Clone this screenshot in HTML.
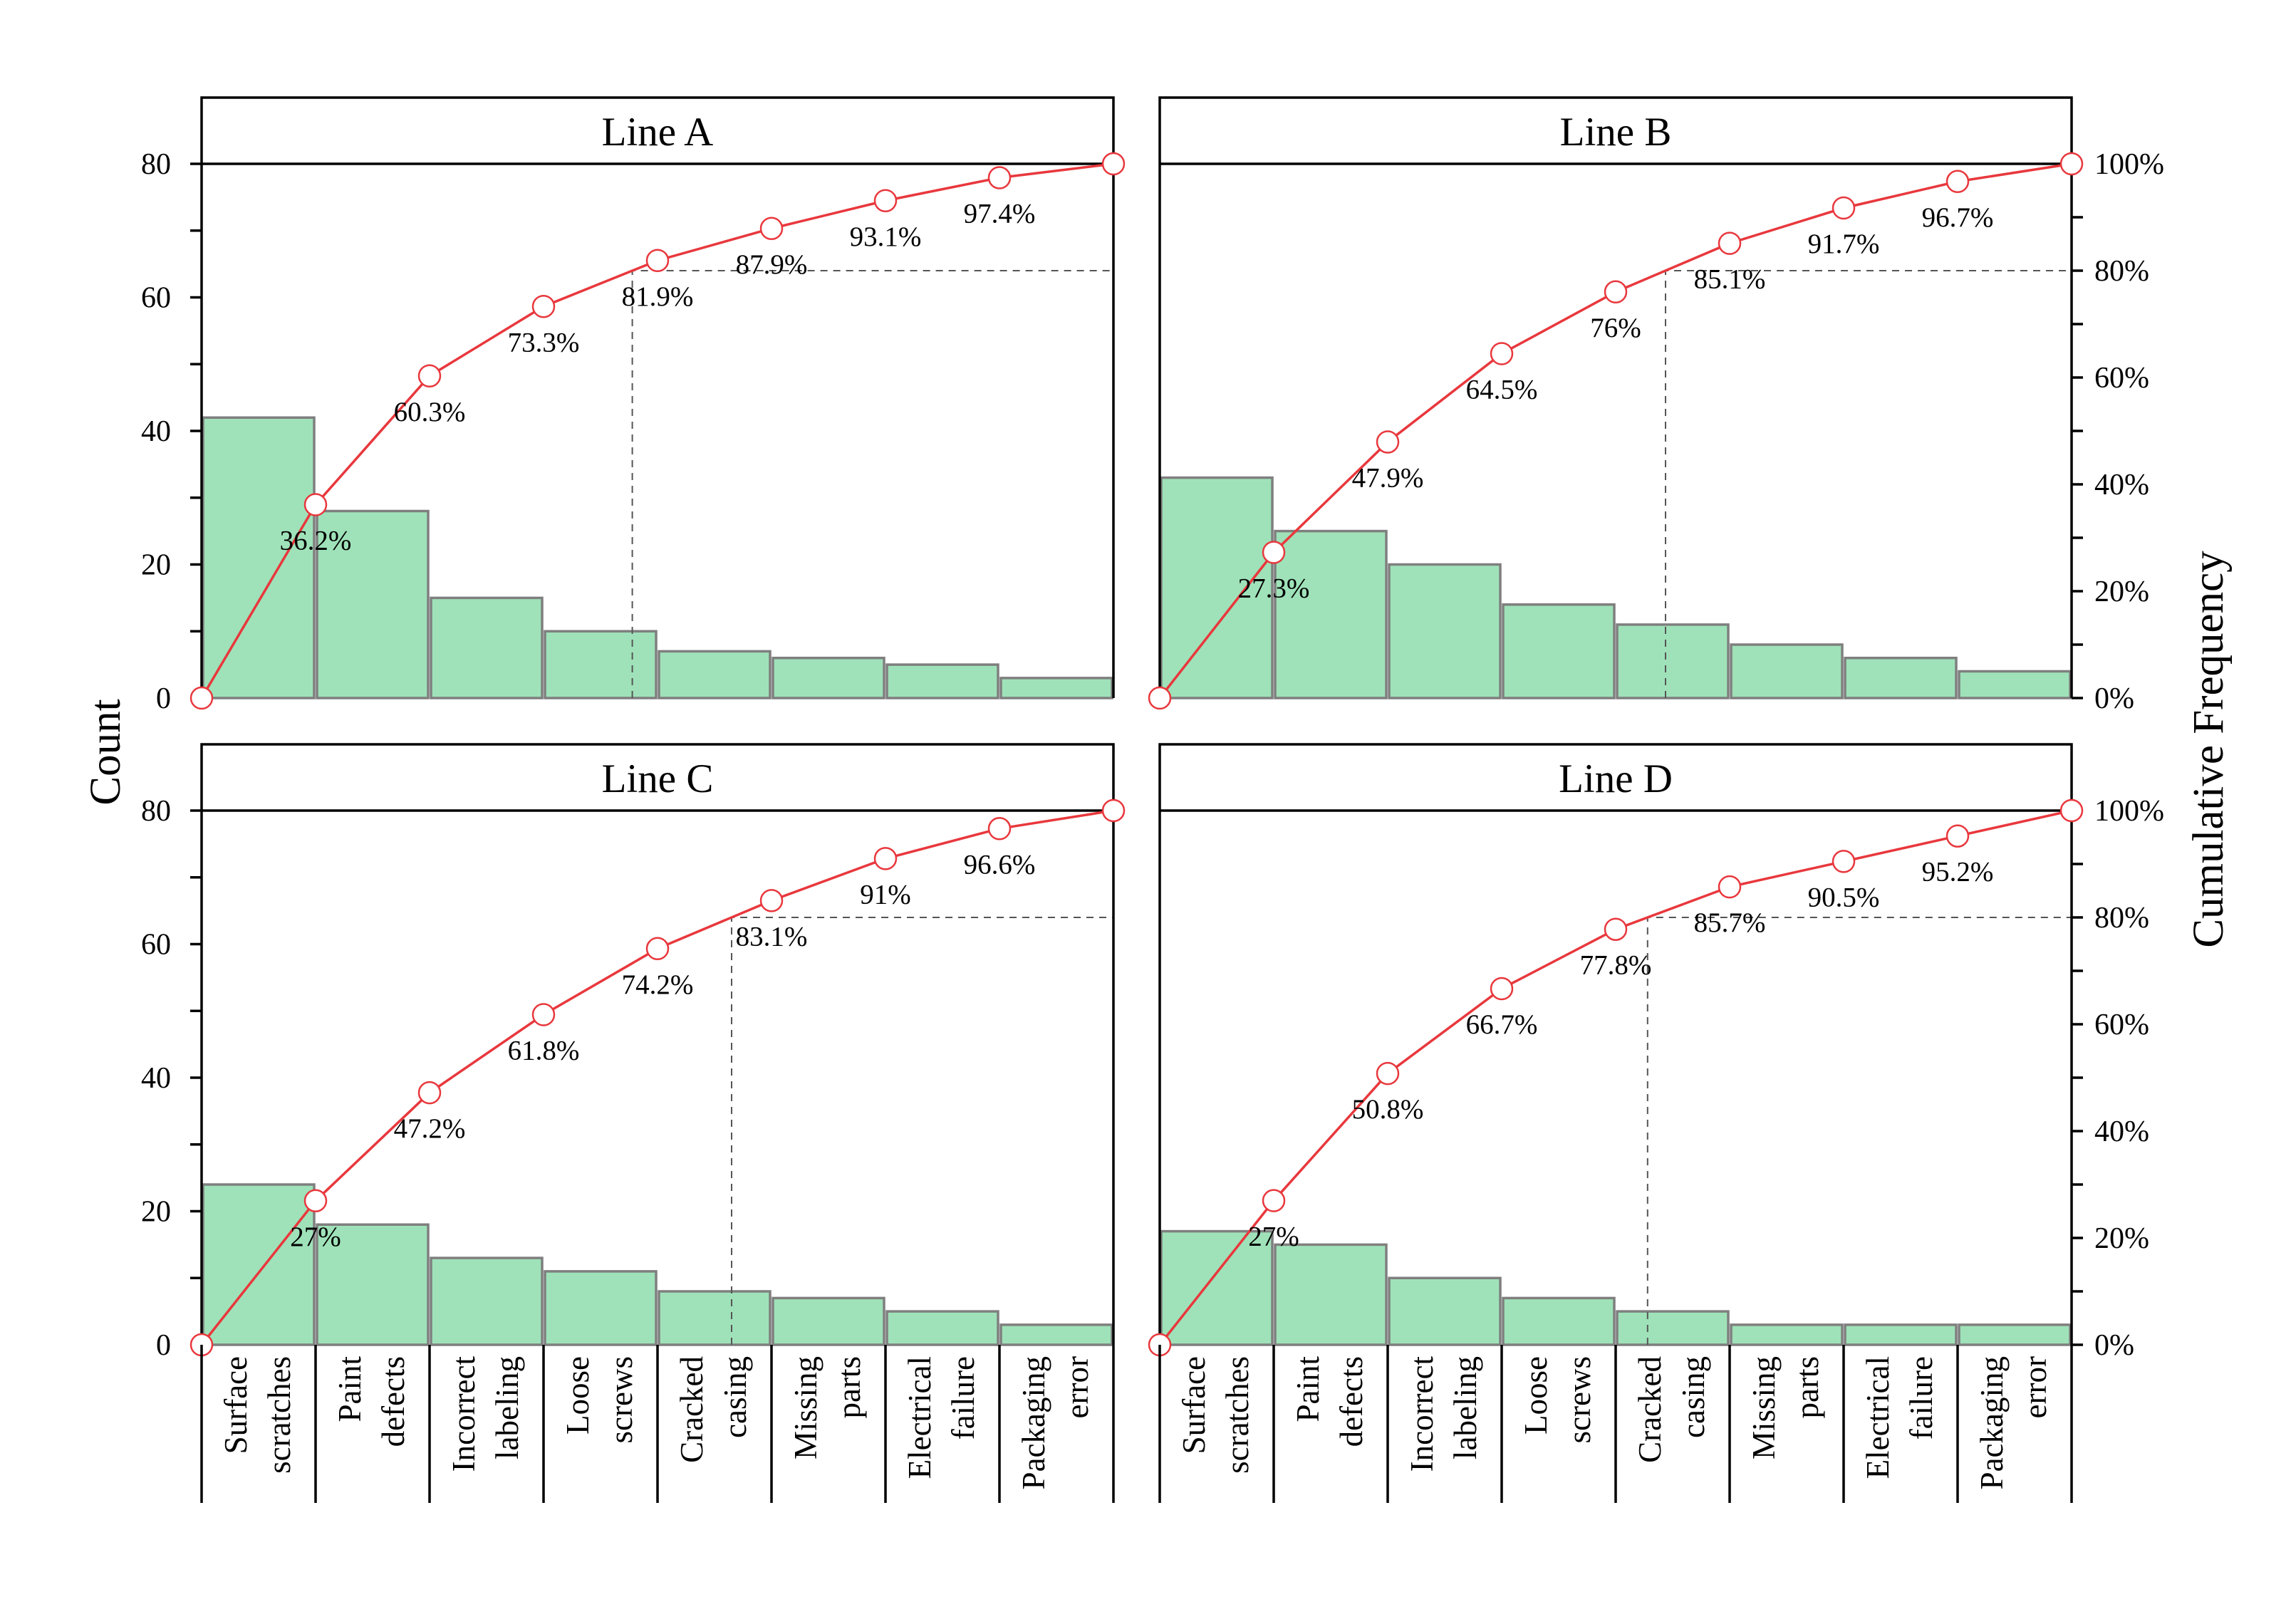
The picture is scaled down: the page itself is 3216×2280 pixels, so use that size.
<!DOCTYPE html>
<html><head><meta charset="utf-8"><style>
html,body{margin:0;padding:0;background:#fff;}
svg{display:block;}
text{font-family:"Liberation Serif",serif;fill:#000;}
.bar{fill:#9fe2b9;stroke:#7f7f7f;stroke-width:3.5;}
.frame{fill:none;stroke:#000;stroke-width:3.5;}
.tick{stroke:#000;stroke-width:3.5;}
.dash{stroke:#555;stroke-width:2;stroke-dasharray:10,8;fill:none;}
.cum{fill:none;stroke:#e8383d;stroke-width:3.5;}
.mk{fill:#fff;stroke:#e8383d;stroke-width:2.5;}
.pl{font-size:39px;text-anchor:middle;}
.yl{font-size:42px;text-anchor:end;}
.yr{font-size:42px;text-anchor:start;}
.tt{font-size:57px;text-anchor:middle;}
.at{font-size:61px;text-anchor:middle;}
.cat{font-size:45px;text-anchor:end;}
</style></head><body>
<svg width="3216" height="2280" viewBox="0 0 3216 2280" xmlns="http://www.w3.org/2000/svg">
<rect width="3216" height="2280" fill="#fff"/>

<!-- ===== Panel A ===== -->
<g transform="translate(283,980)">
<rect class="bar" x="2" y="-393.75" width="156" height="393.75"/>
<rect class="bar" x="162" y="-262.5" width="156" height="262.5"/>
<rect class="bar" x="322" y="-140.6" width="156" height="140.6"/>
<rect class="bar" x="482" y="-93.75" width="156" height="93.75"/>
<rect class="bar" x="642" y="-65.6" width="156" height="65.6"/>
<rect class="bar" x="802" y="-56.25" width="156" height="56.25"/>
<rect class="bar" x="962" y="-46.9" width="156" height="46.9"/>
<rect class="bar" x="1122" y="-28.1" width="156" height="28.1"/>
<path class="dash" d="M604.6,0 V-600 H1280"/>
<path class="frame" d="M0,2 V-843 H1280 V0 M0,-750 H1280"/>
<path class="tick" d="M-16,0H0M-16,-93.75H0M-16,-187.5H0M-16,-281.25H0M-16,-375H0M-16,-468.75H0M-16,-562.5H0M-16,-656.25H0M-16,-750H0"/>
<text class="yl" x="-43" y="14">0</text><text class="yl" x="-43" y="-173.5">20</text><text class="yl" x="-43" y="-361">40</text><text class="yl" x="-43" y="-548.5">60</text><text class="yl" x="-43" y="-736">80</text>
<polyline class="cum" points="0,0 160,-271.5 320,-452.25 480,-549.75 640,-614.25 800,-659.25 960,-698.25 1120,-730.5 1280,-750"/>
<circle class="mk" cx="0" cy="0" r="15"/><circle class="mk" cx="160" cy="-271.5" r="15"/><circle class="mk" cx="320" cy="-452.25" r="15"/><circle class="mk" cx="480" cy="-549.75" r="15"/><circle class="mk" cx="640" cy="-614.25" r="15"/><circle class="mk" cx="800" cy="-659.25" r="15"/><circle class="mk" cx="960" cy="-698.25" r="15"/><circle class="mk" cx="1120" cy="-730.5" r="15"/><circle class="mk" cx="1280" cy="-750" r="15"/>
<text class="pl" x="160" y="-208.5">36.2%</text><text class="pl" x="320" y="-389.25">60.3%</text><text class="pl" x="480" y="-486.75">73.3%</text><text class="pl" x="640" y="-551.25">81.9%</text><text class="pl" x="800" y="-596.25">87.9%</text><text class="pl" x="960" y="-635.25">93.1%</text><text class="pl" x="1120" y="-667.5">97.4%</text>
<text class="tt" x="640" y="-776">Line A</text>
</g>

<!-- ===== Panel B ===== -->
<g transform="translate(1628,980)">
<rect class="bar" x="2" y="-309.4" width="156" height="309.4"/>
<rect class="bar" x="162" y="-234.4" width="156" height="234.4"/>
<rect class="bar" x="322" y="-187.5" width="156" height="187.5"/>
<rect class="bar" x="482" y="-131.25" width="156" height="131.25"/>
<rect class="bar" x="642" y="-103.1" width="156" height="103.1"/>
<rect class="bar" x="802" y="-75" width="156" height="75"/>
<rect class="bar" x="962" y="-56.25" width="156" height="56.25"/>
<rect class="bar" x="1122" y="-37.5" width="156" height="37.5"/>
<path class="dash" d="M710,0 V-600 H1280"/>
<path class="frame" d="M0,2 V-843 H1280 V0 M0,-750 H1280"/>
<path class="tick" d="M1280,0h16M1280,-75h16M1280,-150h16M1280,-225h16M1280,-300h16M1280,-375h16M1280,-450h16M1280,-525h16M1280,-600h16M1280,-675h16M1280,-750h16"/>
<text class="yr" x="1312" y="14">0%</text><text class="yr" x="1312" y="-136">20%</text><text class="yr" x="1312" y="-286">40%</text><text class="yr" x="1312" y="-436">60%</text><text class="yr" x="1312" y="-586">80%</text><text class="yr" x="1312" y="-736">100%</text>
<polyline class="cum" points="0,0 160,-204.5 320,-359.5 480,-483.5 640,-570.2 800,-638.4 960,-688 1120,-725.2 1280,-750"/>
<circle class="mk" cx="0" cy="0" r="15"/><circle class="mk" cx="160" cy="-204.5" r="15"/><circle class="mk" cx="320" cy="-359.5" r="15"/><circle class="mk" cx="480" cy="-483.5" r="15"/><circle class="mk" cx="640" cy="-570.2" r="15"/><circle class="mk" cx="800" cy="-638.4" r="15"/><circle class="mk" cx="960" cy="-688" r="15"/><circle class="mk" cx="1120" cy="-725.2" r="15"/><circle class="mk" cx="1280" cy="-750" r="15"/>
<text class="pl" x="160" y="-141.5">27.3%</text><text class="pl" x="320" y="-296.5">47.9%</text><text class="pl" x="480" y="-420.5">64.5%</text><text class="pl" x="640" y="-507.2">76%</text><text class="pl" x="800" y="-575.4">85.1%</text><text class="pl" x="960" y="-625">91.7%</text><text class="pl" x="1120" y="-662.2">96.7%</text>
<text class="tt" x="640" y="-776">Line B</text>
</g>

<!-- ===== Panel C ===== -->
<g transform="translate(283,1888)">
<rect class="bar" x="2" y="-225" width="156" height="225"/>
<rect class="bar" x="162" y="-168.75" width="156" height="168.75"/>
<rect class="bar" x="322" y="-121.9" width="156" height="121.9"/>
<rect class="bar" x="482" y="-103.1" width="156" height="103.1"/>
<rect class="bar" x="642" y="-75" width="156" height="75"/>
<rect class="bar" x="802" y="-65.6" width="156" height="65.6"/>
<rect class="bar" x="962" y="-46.9" width="156" height="46.9"/>
<rect class="bar" x="1122" y="-28.1" width="156" height="28.1"/>
<path class="dash" d="M744,0 V-600 H1280"/>
<path class="frame" d="M0,2 V-843 H1280 V0 M0,-750 H1280"/>
<path class="tick" d="M-16,0H0M-16,-93.75H0M-16,-187.5H0M-16,-281.25H0M-16,-375H0M-16,-468.75H0M-16,-562.5H0M-16,-656.25H0M-16,-750H0"/>
<text class="yl" x="-43" y="14">0</text><text class="yl" x="-43" y="-173.5">20</text><text class="yl" x="-43" y="-361">40</text><text class="yl" x="-43" y="-548.5">60</text><text class="yl" x="-43" y="-736">80</text>
<polyline class="cum" points="0,0 160,-202.2 320,-353.9 480,-463.5 640,-556.2 800,-623.6 960,-682.6 1120,-724.7 1280,-750"/>
<circle class="mk" cx="0" cy="0" r="15"/><circle class="mk" cx="160" cy="-202.2" r="15"/><circle class="mk" cx="320" cy="-353.9" r="15"/><circle class="mk" cx="480" cy="-463.5" r="15"/><circle class="mk" cx="640" cy="-556.2" r="15"/><circle class="mk" cx="800" cy="-623.6" r="15"/><circle class="mk" cx="960" cy="-682.6" r="15"/><circle class="mk" cx="1120" cy="-724.7" r="15"/><circle class="mk" cx="1280" cy="-750" r="15"/>
<text class="pl" x="160" y="-139.2">27%</text><text class="pl" x="320" y="-290.9">47.2%</text><text class="pl" x="480" y="-400.5">61.8%</text><text class="pl" x="640" y="-493.2">74.2%</text><text class="pl" x="800" y="-560.6">83.1%</text><text class="pl" x="960" y="-619.6">91%</text><text class="pl" x="1120" y="-661.7">96.6%</text>
<text class="tt" x="640" y="-776">Line C</text>
<path class="tick" d="M0,0V222M160,0V222M320,0V222M480,0V222M640,0V222M800,0V222M960,0V222M1120,0V222M1280,0V222"/>
<text class="cat" transform="translate(63,16) rotate(-90)">Surface</text><text class="cat" transform="translate(124,16) rotate(-90)">scratches</text>
<text class="cat" transform="translate(223,16) rotate(-90)">Paint</text><text class="cat" transform="translate(284,16) rotate(-90)">defects</text>
<text class="cat" transform="translate(383,16) rotate(-90)">Incorrect</text><text class="cat" transform="translate(444,16) rotate(-90)">labeling</text>
<text class="cat" transform="translate(543,16) rotate(-90)">Loose</text><text class="cat" transform="translate(604,16) rotate(-90)">screws</text>
<text class="cat" transform="translate(703,16) rotate(-90)">Cracked</text><text class="cat" transform="translate(764,16) rotate(-90)">casing</text>
<text class="cat" transform="translate(863,16) rotate(-90)">Missing</text><text class="cat" transform="translate(924,16) rotate(-90)">parts</text>
<text class="cat" transform="translate(1023,16) rotate(-90)">Electrical</text><text class="cat" transform="translate(1084,16) rotate(-90)">failure</text>
<text class="cat" transform="translate(1183,16) rotate(-90)">Packaging</text><text class="cat" transform="translate(1244,16) rotate(-90)">error</text>
</g>

<!-- ===== Panel D ===== -->
<g transform="translate(1628,1888)">
<rect class="bar" x="2" y="-159.4" width="156" height="159.4"/>
<rect class="bar" x="162" y="-140.6" width="156" height="140.6"/>
<rect class="bar" x="322" y="-93.75" width="156" height="93.75"/>
<rect class="bar" x="482" y="-65.6" width="156" height="65.6"/>
<rect class="bar" x="642" y="-46.9" width="156" height="46.9"/>
<rect class="bar" x="802" y="-28.1" width="156" height="28.1"/>
<rect class="bar" x="962" y="-28.1" width="156" height="28.1"/>
<rect class="bar" x="1122" y="-28.1" width="156" height="28.1"/>
<path class="dash" d="M684.8,0 V-600 H1280"/>
<path class="frame" d="M0,2 V-843 H1280 V0 M0,-750 H1280"/>
<path class="tick" d="M1280,0h16M1280,-75h16M1280,-150h16M1280,-225h16M1280,-300h16M1280,-375h16M1280,-450h16M1280,-525h16M1280,-600h16M1280,-675h16M1280,-750h16"/>
<text class="yr" x="1312" y="14">0%</text><text class="yr" x="1312" y="-136">20%</text><text class="yr" x="1312" y="-286">40%</text><text class="yr" x="1312" y="-436">60%</text><text class="yr" x="1312" y="-586">80%</text><text class="yr" x="1312" y="-736">100%</text>
<polyline class="cum" points="0,0 160,-202.4 320,-380.9 480,-500 640,-583.3 800,-642.9 960,-678.6 1120,-714.3 1280,-750"/>
<circle class="mk" cx="0" cy="0" r="15"/><circle class="mk" cx="160" cy="-202.4" r="15"/><circle class="mk" cx="320" cy="-380.9" r="15"/><circle class="mk" cx="480" cy="-500" r="15"/><circle class="mk" cx="640" cy="-583.3" r="15"/><circle class="mk" cx="800" cy="-642.9" r="15"/><circle class="mk" cx="960" cy="-678.6" r="15"/><circle class="mk" cx="1120" cy="-714.3" r="15"/><circle class="mk" cx="1280" cy="-750" r="15"/>
<text class="pl" x="160" y="-139.4">27%</text><text class="pl" x="320" y="-317.9">50.8%</text><text class="pl" x="480" y="-437">66.7%</text><text class="pl" x="640" y="-520.3">77.8%</text><text class="pl" x="800" y="-579.9">85.7%</text><text class="pl" x="960" y="-615.6">90.5%</text><text class="pl" x="1120" y="-651.3">95.2%</text>
<text class="tt" x="640" y="-776">Line D</text>
<path class="tick" d="M0,0V222M160,0V222M320,0V222M480,0V222M640,0V222M800,0V222M960,0V222M1120,0V222M1280,0V222"/>
<text class="cat" transform="translate(63,16) rotate(-90)">Surface</text><text class="cat" transform="translate(124,16) rotate(-90)">scratches</text>
<text class="cat" transform="translate(223,16) rotate(-90)">Paint</text><text class="cat" transform="translate(284,16) rotate(-90)">defects</text>
<text class="cat" transform="translate(383,16) rotate(-90)">Incorrect</text><text class="cat" transform="translate(444,16) rotate(-90)">labeling</text>
<text class="cat" transform="translate(543,16) rotate(-90)">Loose</text><text class="cat" transform="translate(604,16) rotate(-90)">screws</text>
<text class="cat" transform="translate(703,16) rotate(-90)">Cracked</text><text class="cat" transform="translate(764,16) rotate(-90)">casing</text>
<text class="cat" transform="translate(863,16) rotate(-90)">Missing</text><text class="cat" transform="translate(924,16) rotate(-90)">parts</text>
<text class="cat" transform="translate(1023,16) rotate(-90)">Electrical</text><text class="cat" transform="translate(1084,16) rotate(-90)">failure</text>
<text class="cat" transform="translate(1183,16) rotate(-90)">Packaging</text><text class="cat" transform="translate(1244,16) rotate(-90)">error</text>
</g>

<text class="at" transform="translate(168,1056) rotate(-90)">Count</text>
<text class="at" transform="translate(3120,1052) rotate(-90)">Cumulative Frequency</text>
</svg>
</body></html>
